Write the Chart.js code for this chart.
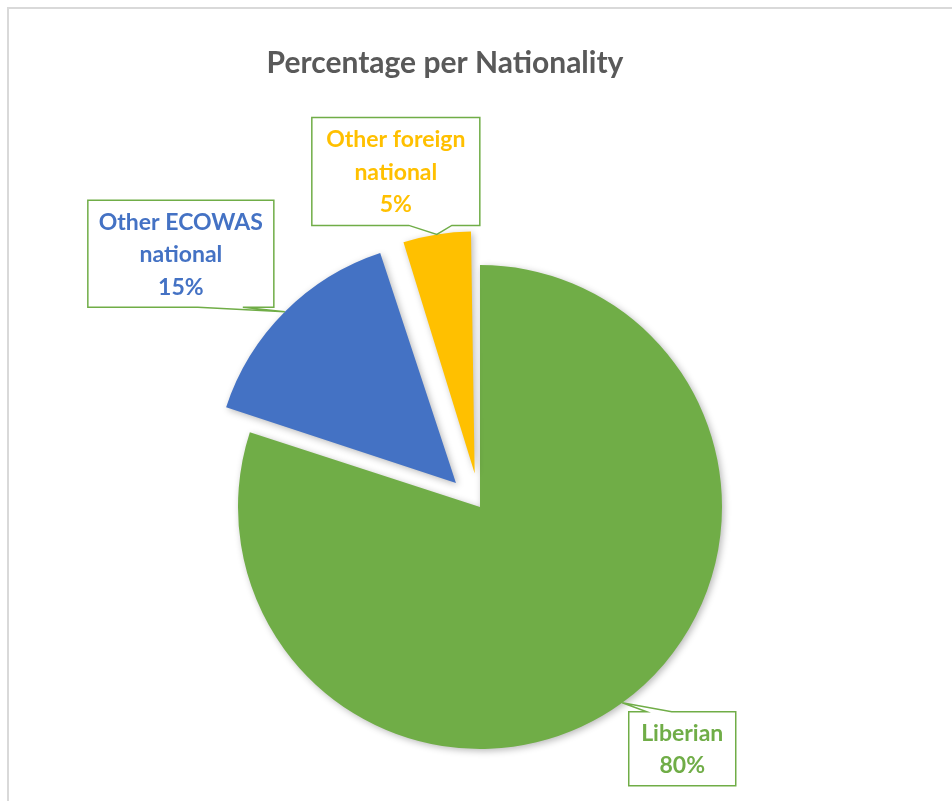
<!DOCTYPE html>
<html>
<head>
<meta charset="utf-8">
<script src="https://cdn.jsdelivr.net/npm/chart.js@4.4.1/dist/chart.umd.min.js"></script>
<style>
  html, body { margin: 0; padding: 0; background: #ffffff; }
  #wrap { position: relative; width: 952px; height: 801px; }
</style>
</head>
<body>
<div id="wrap"><canvas id="chartNacionalidade" width="952" height="801"></canvas></div>
<script>
// Dados do gráfico
var categorias = ['Liberian', 'Other ECOWAS national', 'Other foreign national'];
var percentuais = [80, 15, 5];
var linhasRotulo = [['Liberian'], ['Other ECOWAS', 'national'], ['Other foreign', 'national']];
var cores = ['#70AD47', '#4472C4', '#FFC000'];
var titulo = 'Percentage per Nationality';

// Deslocamento (explode) de cada fatia em px
var explode = [0, 34, 34];
var raio = 242;

// Caixas dos rótulos: centro relativo à ponta, tamanho, lado e base do ponteiro
var caixas = [
    { dx: 60, dy: 46, w: 107, h: 74, lado: 'top', b1: 18, b2: 43 },
    { dx: -104, dy: -58, w: 186, h: 107, lado: 'bottom', b1: 110, b2: 155 },
    { dx: -41, dy: -63, w: 168, h: 108, lado: 'bottom', b1: 97, b2: 140 }
];

// Moldura e título
var pluginFundo = {
    id: 'fundo',
    beforeDraw: function (chart) {
        var ctx = chart.ctx;
        ctx.save();
        ctx.strokeStyle = '#D9D9D9';
        ctx.lineWidth = 2;
        ctx.strokeRect(8, 8, 980, 820);
        ctx.fillStyle = '#595959';
        ctx.font = 'bold 30px Lato';
        ctx.textAlign = 'center';
        ctx.textBaseline = 'alphabetic';
        ctx.fillText(titulo, 445, 73);
        ctx.restore();
    }
};

// Mantém o raio igual nas fatias deslocadas
var pluginRaio = {
    id: 'raio',
    afterDatasetsUpdate: function (chart) {
        var meta = chart.getDatasetMeta(0);
        meta.data.forEach(function (arc, i) {
            var off = explode[i];
            var circ = arc.endAngle - arc.startAngle;
            var fix = 1 - Math.sin(Math.min(Math.PI, circ));
            arc.outerRadius = raio - off * fix;
        });
    }
};

// Sombra suave das fatias
var pluginSombra = {
    id: 'sombra',
    beforeDatasetsDraw: function (chart) {
        var ctx = chart.ctx;
        ctx.save();
        ctx.shadowColor = 'rgba(0,0,0,0.28)';
        ctx.shadowBlur = 7;
        ctx.shadowOffsetX = 2;
        ctx.shadowOffsetY = 2;
    },
    afterDatasetsDraw: function (chart) {
        chart.ctx.restore();
    }
};

// Rótulos em caixa com ponteiro
var pluginRotulos = {
    id: 'rotulos',
    afterDraw: function (chart) {
        var ctx = chart.ctx;
        var meta = chart.getDatasetMeta(0);
        meta.data.forEach(function (arc, i) {
            var meio = (arc.startAngle + arc.endAngle) / 2;
            var dist = explode[i] + raio;
            var px = arc.x + Math.cos(meio) * dist;
            var py = arc.y + Math.sin(meio) * dist;
            var c = caixas[i];
            var esq = px + c.dx - c.w / 2;
            var topo = py + c.dy - c.h / 2;
            var dir = esq + c.w;
            var base = topo + c.h;

            ctx.save();
            ctx.beginPath();
            if (c.lado === 'top') {
                ctx.moveTo(esq, topo);
                ctx.lineTo(esq + c.b1, topo);
                ctx.lineTo(px, py);
                ctx.lineTo(esq + c.b2, topo);
                ctx.lineTo(dir, topo);
                ctx.lineTo(dir, base);
                ctx.lineTo(esq, base);
            } else {
                ctx.moveTo(esq, topo);
                ctx.lineTo(dir, topo);
                ctx.lineTo(dir, base);
                ctx.lineTo(esq + c.b2, base);
                ctx.lineTo(px, py);
                ctx.lineTo(esq + c.b1, base);
                ctx.lineTo(esq, base);
            }
            ctx.closePath();
            ctx.fillStyle = '#FFFFFF';
            ctx.fill();
            ctx.strokeStyle = '#70AD47';
            ctx.lineWidth = 1.5;
            ctx.stroke();

            var linhas = linhasRotulo[i].concat([percentuais[i] + '%']);
            var cx = (esq + dir) / 2;
            var cy = (topo + base) / 2 + 1;
            var passo = 32.5;
            ctx.fillStyle = cores[i];
            ctx.font = 'bold 23px Lato';
            ctx.textAlign = 'center';
            ctx.textBaseline = 'middle';
            linhas.forEach(function (txt, k) {
                ctx.fillText(txt, cx, cy + (k - (linhas.length - 1) / 2) * passo);
            });
            ctx.restore();
        });
    }
};

var ctxNac = document.getElementById('chartNacionalidade').getContext('2d');
var chartNac = new Chart(ctxNac, {
    type: 'pie',
    data: {
        labels: categorias,
        datasets: [{
            data: percentuais,
            backgroundColor: cores,
            borderWidth: 0,
            offset: explode.map(function (v) { return v * 4; })
        }]
    },
    options: {
        responsive: false,
        animation: false,
        radius: raio,
        layout: { padding: { left: 204, right: 196, top: 231, bottom: 18 } },
        plugins: {
            legend: { display: false },
            tooltip: { enabled: false }
        }
    },
    plugins: [pluginFundo, pluginRaio, pluginSombra, pluginRotulos]
});
</script>
</body>
</html>
